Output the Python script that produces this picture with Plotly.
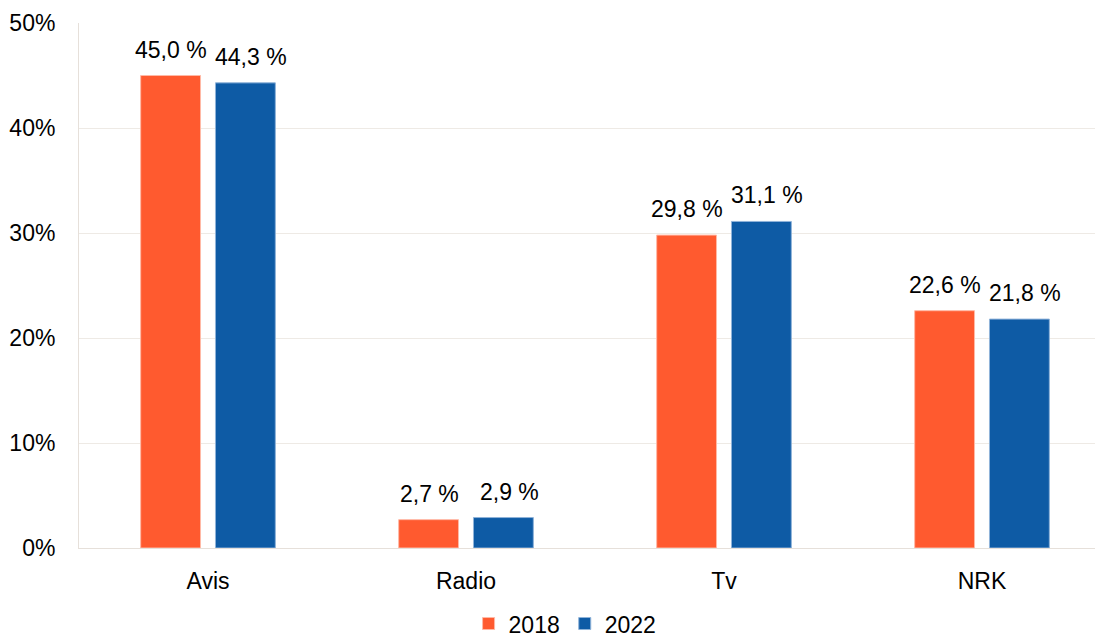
import plotly.graph_objects as go

# kategorier og andeler (prosent)
kategorier = ['Avis', 'Radio', 'Tv', 'NRK']
andel_2018 = [45.0, 2.7, 29.8, 22.6]
andel_2022 = [44.3, 2.9, 31.1, 21.8]

farge_2018 = '#FF5A2F'
farge_2022 = '#0E5BA5'

fig = go.Figure()
fig.add_trace(go.Bar(x=kategorier, y=andel_2018, name='2018',
                     marker=dict(color=farge_2018, line=dict(color='#FFB9A6', width=1))))
fig.add_trace(go.Bar(x=kategorier, y=andel_2022, name='2022',
                     marker=dict(color=farge_2022, line=dict(color='#8FB3D9', width=1))))

# dataetiketter litt over søylene
for verdier, skift in [(andel_2018, -37), (andel_2022, 43)]:
    for kat, v in zip(kategorier, verdier):
        fig.add_annotation(x=kat, y=v, text=f'{v:.1f} %'.replace('.', ','),
                           showarrow=False, xshift=skift, yshift=11,
                           yanchor='bottom', font=dict(size=23, color='black'))

# siden vises med 8px marg i nettleseren, derfor litt mindre marg her
fig.update_layout(
    width=1103, height=636,
    margin=dict(l=71, r=0, t=15, b=96, autoexpand=False),
    plot_bgcolor='white', paper_bgcolor='white',
    font=dict(family='Liberation Sans, Arial, sans-serif', size=23, color='black'),
    separators=', ',
    barmode='group', bargap=0.42, bargroupgap=0.2,
    showlegend=True,
    legend=dict(orientation='h', x=0.471, xanchor='center', y=-0.103, yanchor='top',
                font=dict(size=23), itemwidth=30, tracegroupgap=0),
    xaxis=dict(range=[-0.5, 3.5], showline=True, linecolor='#E6E0DA',
               ticks='', tickfont=dict(size=23), automargin=False,
               ticklabelstandoff=12),
    yaxis=dict(range=[0, 50], dtick=10, ticksuffix='%', showgrid=True,
               gridcolor='#EEEAE5', showline=True, linecolor='#E6E0DA',
               zeroline=False, tickfont=dict(size=23), automargin=False,
               ticklabelstandoff=18),
)

fig.write_html("out.html")
